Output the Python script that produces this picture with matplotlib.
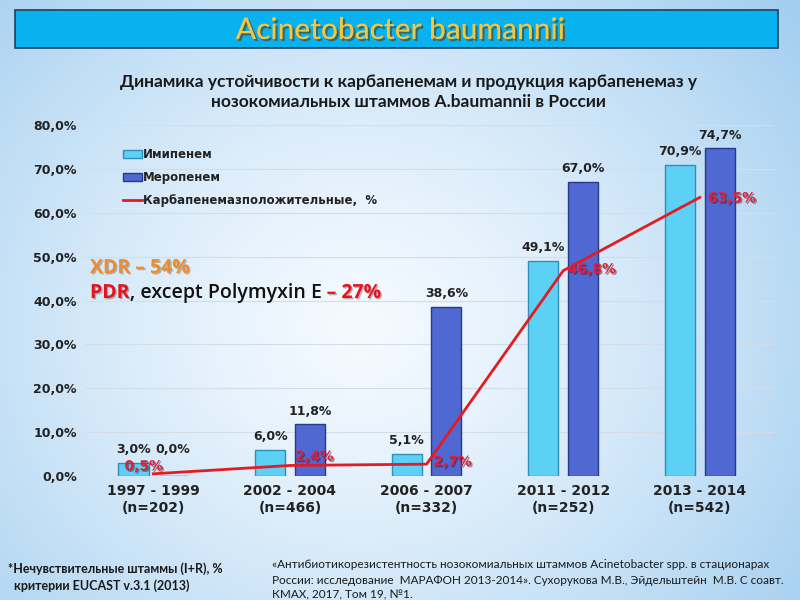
import matplotlib
matplotlib.use("Agg")
from matplotlib import pyplot as plt
from matplotlib.patches import Rectangle
import matplotlib.patheffects as pe
import numpy as np

periods = ["1997 - 1999\n(n=202)", "2002 - 2004\n(n=466)", "2006 - 2007\n(n=332)",
           "2011 - 2012\n(n=252)", "2013 - 2014\n(n=542)"]
imipenem = [3.0, 6.0, 5.1, 49.1, 70.9]
meropenem = [0.0, 11.8, 38.6, 67.0, 74.7]
carbapenemase = [0.5, 2.4, 2.7, 46.8, 63.5]
yticks = [0, 10, 20, 30, 40, 50, 60, 70, 80]


def pct(v):
    return f"{v:.1f}%".replace(".", ",")


fig = plt.figure(figsize=(8, 6), dpi=100)

# background gradient
bg = fig.add_axes([0, 0, 1, 1], zorder=-10)
yy, xx = np.mgrid[0:1:200j, 0:1:200j]
dist = np.sqrt(((xx - 0.45) / 0.7) ** 2 + ((yy - 0.45) / 0.85) ** 2)
c_in = np.array([0.96, 0.98, 1.0])
c_out = np.array([0.64, 0.81, 0.94])
t = np.clip(dist, 0, 1)[..., None] ** 1.3
bg.imshow(c_in * (1 - t) + c_out * t, extent=[0, 1, 0, 1], aspect="auto", origin="lower")
bg.axis("off")

# title banner
fig.patches.append(Rectangle((15 / 800, 1 - 48 / 600), 763 / 800, 38 / 600,
                             transform=fig.transFigure, facecolor="#08b2ef",
                             edgecolor="#1f3f5f", linewidth=1.2, zorder=1))
fig.text(0.5, 1 - 30 / 600, "Acinetobacter baumannii", ha="center", va="center",
         fontsize=21.5, color="#f5c542", family="Lato", fontweight="medium",
         path_effects=[pe.withSimplePatchShadow(offset=(1.5, -1.5), alpha=0.6)])

fig.text(0.51, 1 - 82 / 600, "Динамика устойчивости к карбапенемам и продукция карбапенемаз у",
         ha="center", va="center", fontsize=12.5, color="#1a1a1a", family="Lato",
         fontweight="bold")
fig.text(0.51, 1 - 102 / 600, "нозокомиальных штаммов A.baumannii в России",
         ha="center", va="center", fontsize=12.5, color="#1a1a1a", family="Lato",
         fontweight="bold")

ax = fig.add_axes([85 / 800, 1 - 476 / 600, 690 / 800, 351 / 600])
ax.patch.set_alpha(0)
x = np.arange(len(periods))
w = 0.22
off = 0.145

b1 = ax.bar(x - off, imipenem, w, color="#5cd0f5", edgecolor="#2f8fb5", linewidth=1,
            label="Имипенем", zorder=3)
b2 = ax.bar(x + off, meropenem, w, color="#4f68d2", edgecolor="#27398a", linewidth=1,
            label="Меропенем", zorder=3)
ln, = ax.plot(x, carbapenemase, color="#e31b23", linewidth=2,
              label="Карбапенемазположительные,  %", zorder=4)

for xi, v in zip(x, imipenem):
    ax.text(xi - off, v + 1.5, pct(v), ha="center", va="bottom", fontsize=9,
            fontweight="bold", color="#222222")
mero_dy = [4.5, 1.5, 1.5, 1.5, 1.5]
for xi, v, dy in zip(x, meropenem, mero_dy):
    ax.text(xi + off, v + dy, pct(v), ha="center", va="bottom", fontsize=9,
            fontweight="bold", color="#222222")

red_fx = [pe.withSimplePatchShadow(offset=(1, -1), alpha=0.45)]
line_dx = [-0.07, 0.18, 0.19, 0.21, 0.235]
line_dy = [1.7, 2.0, 0.5, 0.3, -0.2]
for xi, v, dx, dy in zip(x, carbapenemase, line_dx, line_dy):
    ax.text(xi + dx, v + dy, pct(v), ha="center", va="center", fontsize=10,
            fontweight="bold", color="#e0203a", path_effects=red_fx, zorder=5)

ax.set_xlim(-0.5, 4.55)
ax.set_ylim(0, 80)
ax.set_yticks(yticks)
ax.set_yticklabels([pct(v) for v in yticks], fontsize=9, fontweight="bold", color="#222222")
ax.set_xticks(x)
ax.set_xticklabels(periods, fontsize=10, fontweight="bold", color="#222222",
                   linespacing=1.2)
ax.tick_params(length=0, pad=6)
ax.grid(axis="y", color="#d4dde6", linewidth=0.8, zorder=0)
for s in ax.spines.values():
    s.set_visible(False)

leg = ax.legend(handles=[b1, b2, ln], loc="upper left", bbox_to_anchor=(0.04, 0.965),
                frameon=False, prop={"size": 8.5, "weight": "bold"}, handlelength=1.6,
                handletextpad=0.1, labelspacing=0.85)
for txt in leg.get_texts():
    txt.set_color("#222222")

# XDR / PDR annotation
fig.text(90 / 800, 1 - 268 / 600, "XDR – 54%", fontsize=14, fontweight="bold",
         color="#ef8b2c", family="Open Sans", va="center",
         path_effects=[pe.withSimplePatchShadow(offset=(1, -1), alpha=0.3)])
t1 = fig.text(90 / 800, 1 - 293 / 600, "PDR", fontsize=14, fontweight="bold",
              color="#e3141e", family="Open Sans", va="center",
              path_effects=[pe.withSimplePatchShadow(offset=(1, -1), alpha=0.3)])
fig.canvas.draw()
bb = t1.get_window_extent()
t2 = fig.text(bb.x1 / 800, 1 - 293 / 600, ", except Polymyxin E ", fontsize=14,
              color="#111111", family="Open Sans", va="center", fontweight="semibold")
bb2 = t2.get_window_extent()
fig.text(bb2.x1 / 800, 1 - 293 / 600, "– 27%", fontsize=14, fontweight="bold",
         color="#e3141e", family="Open Sans", va="center",
         path_effects=[pe.withSimplePatchShadow(offset=(1, -1), alpha=0.3)])

# footnotes
fig.text(8 / 800, 1 - 577 / 600, "*Нечувствительные штаммы (I+R), %\n  критерии EUCAST v.3.1 (2013)",
         fontsize=9, fontweight="bold", color="#1a1a1a", va="center", family="Lato",
         linespacing=1.35)
fig.text(272 / 800, 1 - 580 / 600,
         "«Антибиотикорезистентность нозокомиальных штаммов Acinetobacter spp. в стационарах\n"
         "России: исследование  МАРАФОН 2013-2014». Сухорукова М.В., Эйдельштейн  М.В. С соавт.\n"
         "КМАХ, 2017, Том 19, №1.",
         fontsize=8.5, color="#1a1a1a", va="center", family="Lato", linespacing=1.45)

fig.savefig("out.png", dpi=100)
